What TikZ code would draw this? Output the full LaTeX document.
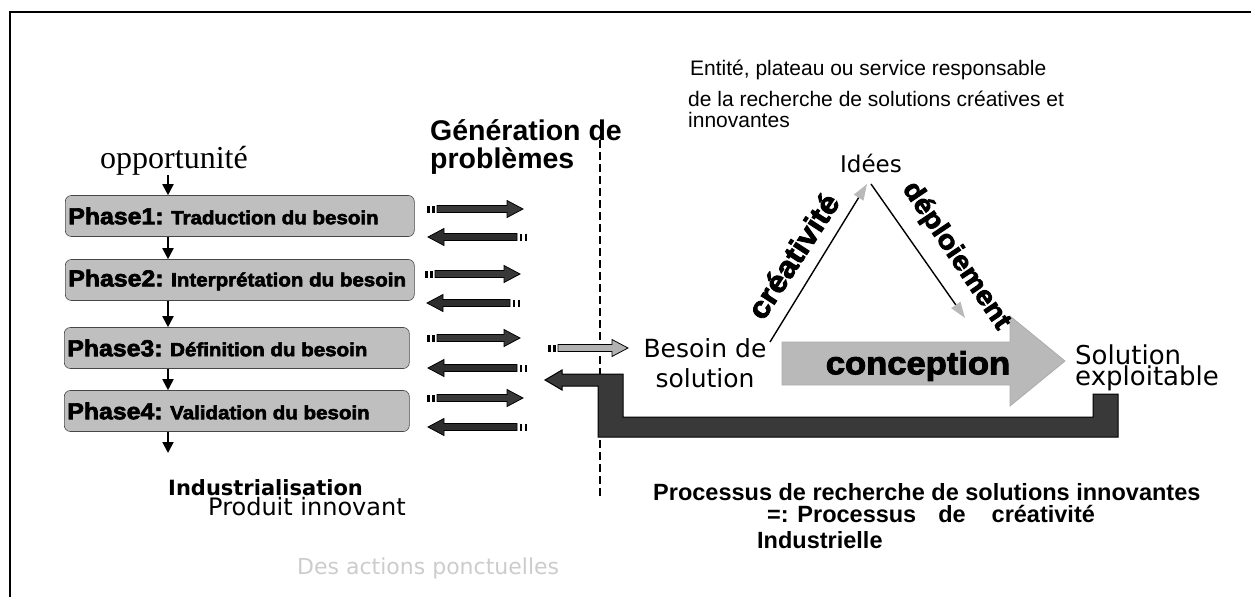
\documentclass[tikz,border=0pt]{standalone}
\usepackage{fontspec}
\setmainfont{Liberation Sans}
\newfontfamily\seriffam{Liberation Serif}
\newfontfamily\dvsans{DejaVu Sans}
\newfontfamily\heavyfam{Liberation Sans}[FakeBold=3,FakeStretch=1.08]
\usetikzlibrary{arrows.meta}
\newcommand\rblk[4]{%
  \fill (#1,#3-3.5) rectangle (#1+2.5,#3+3.5);
  \fill (#1+5,#3-3.5) rectangle (#1+7.5,#3+3.5);
  \filldraw[fill=#4,draw=black,line width=0.8pt] (#1+10,#3-3.5) -- (#2-16,#3-3.5) -- (#2-16,#3-8.5) -- (#2,#3) -- (#2-16,#3+8.5) -- (#2-16,#3+3.5) -- (#1+10,#3+3.5) -- cycle;}
\newcommand\lblk[4]{%
  \filldraw[fill=#4,draw=black,line width=0.8pt] (#1,#3) -- (#1+16,#3-8.5) -- (#1+16,#3-3.5) -- (#2-10,#3-3.5) -- (#2-10,#3+3.5) -- (#1+16,#3+3.5) -- (#1+16,#3+8.5) -- cycle;
  \fill (#2-7.5,#3-3.5) rectangle (#2-5,#3+3.5);
  \fill (#2-2.5,#3-3.5) rectangle (#2,#3+3.5);}
\newcommand\phlab[1]{{\fontsize{23}{22}\selectfont #1}}
\begin{document}
\begin{tikzpicture}[x=1pt,y=-1pt,
  flow/.style={line width=1.8pt,-{Triangle[length=11pt,width=11pt]}},
  phasebox/.style={draw=gray!55!black,line width=0.6pt,rounded corners=6pt,
    fill=gray!50,anchor=west,inner xsep=3pt,inner ysep=0pt,minimum height=41pt,
    font=\heavyfam\bfseries\fontsize{19}{22}\selectfont},
  thinarr/.style={line width=1.4pt,-{Triangle[length=16pt,width=11pt,color=gray!55]}},
  heavytxt/.style={font=\heavyfam\bfseries\fontsize{30}{30}\selectfont,inner sep=0pt},
  txt/.style={inner sep=0pt,anchor=base west}]
\useasboundingbox (0,0) rectangle (1251,597);
% frame
\draw[line width=2.5pt] (10,597) -- (10,12) -- (1251,12);

% left column
\node[txt,font=\seriffam\fontsize{32}{32}\selectfont] (opp) at (100,168) {opportunité};
\node[phasebox] (p1) at (65,216) {\makebox[343pt][l]{\phlab{Phase1:} Traduction du besoin}};
\node[phasebox] (p2) at (65,280) {\makebox[343pt][l]{\phlab{Phase2:} Interprétation du besoin}};
\node[phasebox] (p3) at (64,348) {\makebox[339pt][l]{\phlab{Phase3:} Définition du besoin}};
\node[phasebox] (p4) at (64,411) {\makebox[339pt][l]{\phlab{Phase4:} Validation du besoin}};
\coordinate (ax) at (168,0);
\coordinate (indtop) at (168,453);
\draw[flow] (opp.south -| ax) -- (p1.north -| ax);
\draw[flow] (p1.south -| ax) -- (p2.north -| ax);
\draw[flow] (p2.south -| ax) -- (p3.north -| ax);
\draw[flow] (p3.south -| ax) -- (p4.north -| ax);
\draw[flow] (p4.south -| ax) -- (indtop);
\node[txt,font=\dvsans\bfseries\fontsize{21}{22}\selectfont] (ind) at (168,495) {Industrialisation};
\node[txt,font=\dvsans\fontsize{24}{24}\selectfont] (prod) at (208,515) {Produit innovant};

% exchange arrows
\rblk{427}{523}{209}{gray!45!black}
\lblk{428}{527}{237}{gray!35!black}
\rblk{425}{520}{274}{gray!45!black}
\lblk{427}{520}{303}{gray!35!black}
\rblk{427}{520}{338}{gray!45!black}
\lblk{428}{527}{368}{gray!35!black}
\rblk{427}{523}{398}{gray!45!black}
\lblk{428}{527}{427}{gray!35!black}

\node[txt,font=\bfseries\fontsize{28.5}{28}\selectfont] (gen) at (430,140) {Génération de};
\node[txt,font=\bfseries\fontsize{28.5}{28}\selectfont] (gen2) at (430,168) {problèmes};

% dashed separator
\draw[line width=2pt,dash pattern=on 8pt off 4pt] (600,140) -- (600,497);

% middle arrow to besoin
\rblk{548}{628}{348}{gray!60}

% return path
\filldraw[fill=gray!45!black,draw=black,line width=1pt]
  (545,380) -- (562,370) -- (562,374) -- (623,374) -- (623,417) -- (1093,417)
  -- (1093,394) -- (1118,394) -- (1118,437) -- (598,437) -- (598,386)
  -- (562,386) -- (562,390) -- cycle;

% top right text
\node[txt,font=\fontsize{21}{21}\selectfont] (ent1) at (690,75) {Entité, plateau ou service responsable};
\node[txt,font=\fontsize{21}{21}\selectfont] (ent2) at (688,106) {de la recherche de solutions créatives et};
\node[txt,font=\fontsize{21}{21}\selectfont] (ent3) at (688,127) {innovantes};

% triangle
\filldraw[fill=gray!55,draw=gray!65,line width=0.8pt]
  (782,342) -- (1010,342) -- (1010,316) -- (1065,361) -- (1010,406) -- (1010,385) -- (782,385) -- cycle;
\node[heavytxt,font=\heavyfam\bfseries\fontsize{32}{32}\selectfont] (conc) at (918,366) {conception};
\node[font=\dvsans\fontsize{23}{23}\selectfont,inner sep=0pt,anchor=base] (idees) at (871,172) {Idées};
\node[font=\dvsans\fontsize{25}{30}\selectfont,align=center,inner sep=0pt] (besoin) at (705,363) {Besoin de\\solution};
\node[font=\dvsans\fontsize{26}{21}\selectfont,align=left,inner sep=0pt,anchor=west] (sol) at (1075,368) {Solution\\exploitable};
\coordinate (cst) at (770,342);
\coordinate (itip) at (867,184);
\coordinate (dst) at (871,184);
\coordinate (dtip) at (965,318);
\draw[thinarr] (cst) -- (itip);
\draw[thinarr] (dst) -- (dtip);
\node[heavytxt,rotate=57] (lcre) at (793,256) {créativité};
\node[heavytxt,font=\heavyfam\bfseries\fontsize{27}{27}\selectfont,rotate=-56] (ldep) at (956,256) {déploiement};

% bottom text
\node[txt,font=\bfseries\fontsize{23.5}{24}\selectfont] (pr1) at (653,500) {Processus de recherche de solutions innovantes};
\node[txt,font=\bfseries\fontsize{23.5}{24}\selectfont] (pr2) at (767,522) {=: Processus\hspace{22pt}de\hspace{26pt}créativité};
\node[txt,font=\bfseries\fontsize{23.5}{24}\selectfont] (pr3) at (757,548) {Industrielle};
\node[txt,font=\dvsans\fontsize{22}{22}\selectfont,text=gray!40] (faint) at (297,574) {Des actions ponctuelles};
\end{tikzpicture}
\end{document}
